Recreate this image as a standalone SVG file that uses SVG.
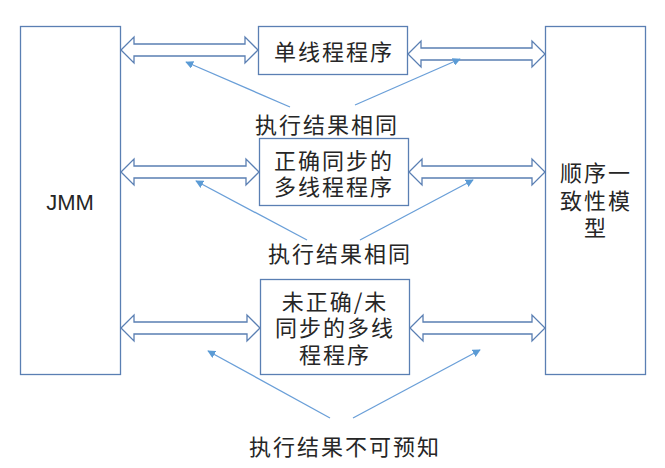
<svg xmlns="http://www.w3.org/2000/svg" width="665" height="468" viewBox="0 0 665 468">
<style>
.box{fill:#ffffff;stroke:#5a7fb3;stroke-width:1.3}
.harrow{fill:#ffffff;stroke:#5a7fb3;stroke-width:1.3;stroke-linejoin:miter}
.t{font-family:"Noto Sans CJK SC","Noto Sans",sans-serif;font-size:22px;letter-spacing:2px;fill:#262626;text-anchor:middle}
.lat{font-family:"Liberation Sans",Arial,sans-serif;font-size:22px;fill:#262626;text-anchor:middle}
.ln{stroke:#6a9fd8;stroke-width:1.3;fill:none;marker-end:url(#ah)}
</style>
<defs>
<marker id="ah" viewBox="0 0 10 10" refX="9" refY="5" markerWidth="8" markerHeight="8" markerUnits="userSpaceOnUse" orient="auto">
<path d="M0,0 L10,5 L0,10 Z" fill="#5b9bd5"/>
</marker>
</defs>
<rect width="665" height="468" fill="#ffffff"/>
<g id="jmm">
<rect class="box" x="20.5" y="26.5" width="100" height="348"/>
<text class="lat" x="70" y="210">JMM</text>
</g>
<g id="sc">
<rect class="box" x="545.5" y="26.5" width="100" height="348"/>
<text class="t" x="596" y="181">顺序一</text>
<text class="t" x="596" y="209">致性模</text>
<text class="t" x="596" y="236">型</text>
</g>
<g id="single">
<rect class="box" x="258.5" y="26.5" width="149" height="48"/>
<text class="t" x="334" y="60">单线程程序</text>
</g>
<g id="sync">
<rect class="box" x="259.5" y="138.5" width="149" height="67"/>
<text class="t" x="334" y="169">正确同步的</text>
<text class="t" x="334" y="195">多线程程序</text>
</g>
<g id="unsync">
<rect class="box" x="260.5" y="279.5" width="149" height="95"/>
<text class="t" x="335" y="310">未正确/未</text>
<text class="t" x="335" y="336">同步的多线</text>
<text class="t" x="335" y="363">程程序</text>
</g>
<g id="labels">
<text class="t" x="327" y="133">执行结果相同</text>
<text class="t" x="340" y="262">执行结果相同</text>
<text class="t" x="345" y="455">执行结果不可预知</text>
</g>
<g id="connectors">
<polygon class="harrow" points="121,50 134,37 134,44 245,44 245,37 258,50 245,63 245,56 134,56 134,63"/>
<polygon class="harrow" points="408,54 421,41 421,48 532,48 532,41 545,54 532,67 532,60 421,60 421,67"/>
<polygon class="harrow" points="121,172 134,159 134,166 246,166 246,159 259,172 246,185 246,178 134,178 134,185"/>
<polygon class="harrow" points="409,172 422,159 422,166 532,166 532,159 545,172 532,185 532,178 422,178 422,185"/>
<polygon class="harrow" points="121,328 134,315 134,322 247,322 247,315 260,328 247,341 247,334 134,334 134,341"/>
<polygon class="harrow" points="410,328 423,315 423,322 532,322 532,315 545,328 532,341 532,334 423,334 423,341"/>
<line class="ln" x1="290" y1="107" x2="186" y2="62"/>
<line class="ln" x1="355" y1="105" x2="460" y2="59"/>
<line class="ln" x1="307" y1="240" x2="196" y2="181"/>
<line class="ln" x1="360" y1="240" x2="473" y2="180"/>
<line class="ln" x1="330" y1="418" x2="208" y2="351"/>
<line class="ln" x1="353" y1="418" x2="480" y2="350"/>
</g>
</svg>
